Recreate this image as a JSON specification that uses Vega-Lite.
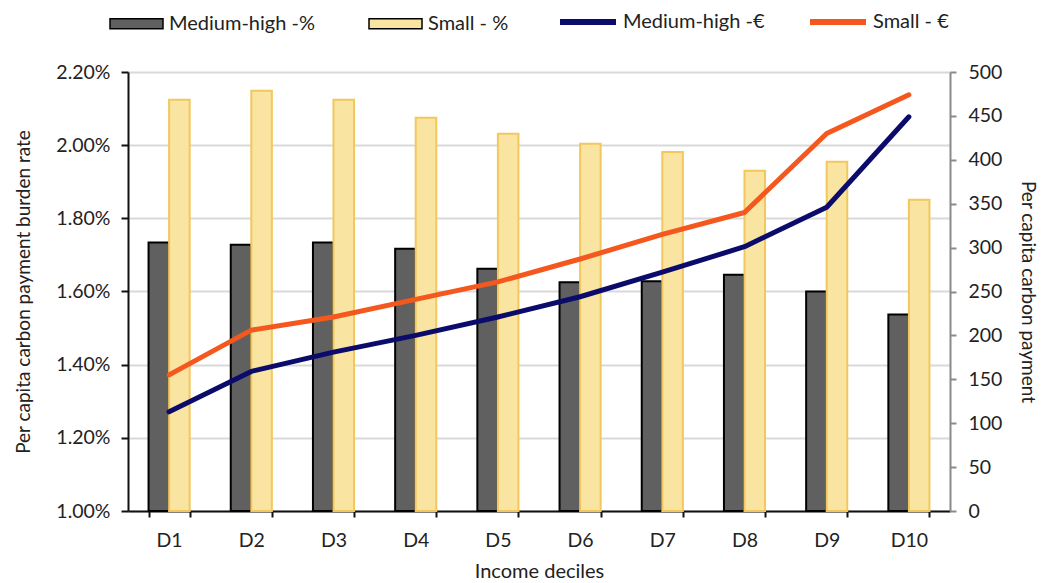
{
  "$schema": "https://vega.github.io/schema/vega-lite/v6.json",
  "autosize": {"type": "none"},
  "padding": {"left": 128, "top": 72, "right": 94, "bottom": 72},
  "width": 822,
  "height": 439,
  "background": "white",
  "config": {
    "font": "Lato",
    "view": {"stroke": null},
    "axis": {"labelFont": "Lato", "titleFont": "Lato", "labelFontSize": 19.5, "titleFontSize": 19, "titleFontWeight": "normal", "labelColor": "#222", "titleColor": "#222"},
    "legend": {"labelFont": "Lato", "labelFontSize": 20, "labelColor": "#222"}
  },
  "datasets": {
    "rates": [
      {"decile": "D1", "series": "Medium-high -%", "value": 0.01734},
      {"decile": "D1", "series": "Small - %", "value": 0.02124},
      {"decile": "D2", "series": "Medium-high -%", "value": 0.01728},
      {"decile": "D2", "series": "Small - %", "value": 0.02149},
      {"decile": "D3", "series": "Medium-high -%", "value": 0.01734},
      {"decile": "D3", "series": "Small - %", "value": 0.02124},
      {"decile": "D4", "series": "Medium-high -%", "value": 0.01717},
      {"decile": "D4", "series": "Small - %", "value": 0.02075},
      {"decile": "D5", "series": "Medium-high -%", "value": 0.01662},
      {"decile": "D5", "series": "Small - %", "value": 0.02031},
      {"decile": "D6", "series": "Medium-high -%", "value": 0.01625},
      {"decile": "D6", "series": "Small - %", "value": 0.02004},
      {"decile": "D7", "series": "Medium-high -%", "value": 0.01628},
      {"decile": "D7", "series": "Small - %", "value": 0.01981},
      {"decile": "D8", "series": "Medium-high -%", "value": 0.01646},
      {"decile": "D8", "series": "Small - %", "value": 0.01930},
      {"decile": "D9", "series": "Medium-high -%", "value": 0.01600},
      {"decile": "D9", "series": "Small - %", "value": 0.01955},
      {"decile": "D10", "series": "Medium-high -%", "value": 0.01537},
      {"decile": "D10", "series": "Small - %", "value": 0.01851}
    ],
    "payments": [
      {"decile": "D1", "series": "Medium-high -€", "value": 113},
      {"decile": "D2", "series": "Medium-high -€", "value": 159},
      {"decile": "D3", "series": "Medium-high -€", "value": 181},
      {"decile": "D4", "series": "Medium-high -€", "value": 200},
      {"decile": "D5", "series": "Medium-high -€", "value": 221},
      {"decile": "D6", "series": "Medium-high -€", "value": 244},
      {"decile": "D7", "series": "Medium-high -€", "value": 272},
      {"decile": "D8", "series": "Medium-high -€", "value": 301},
      {"decile": "D9", "series": "Medium-high -€", "value": 346},
      {"decile": "D10", "series": "Medium-high -€", "value": 449},
      {"decile": "D1", "series": "Small - €", "value": 155},
      {"decile": "D2", "series": "Small - €", "value": 206},
      {"decile": "D3", "series": "Small - €", "value": 221},
      {"decile": "D4", "series": "Small - €", "value": 241},
      {"decile": "D5", "series": "Small - €", "value": 261},
      {"decile": "D6", "series": "Small - €", "value": 287},
      {"decile": "D7", "series": "Small - €", "value": 315},
      {"decile": "D8", "series": "Small - €", "value": 340},
      {"decile": "D9", "series": "Small - €", "value": 430},
      {"decile": "D10", "series": "Small - €", "value": 474}
    ]
  },
  "encoding": {
    "x": {
      "field": "decile",
      "type": "nominal",
      "sort": ["D1", "D2", "D3", "D4", "D5", "D6", "D7", "D8", "D9", "D10"],
      "scale": {"paddingInner": 0.5, "paddingOuter": 0.25},
      "axis": {
        "title": "Income deciles",
        "titleFontSize": 20,
        "labelAngle": 0,
        "labelPadding": 14,
        "titlePadding": 12,
        "tickBand": "extent",
        "domainColor": "#111",
        "domainWidth": 2,
        "tickColor": "#111",
        "tickWidth": 2,
        "tickSize": 6,
        "grid": false
      }
    }
  },
  "layer": [
    {
      "data": {"name": "rates"},
      "mark": {"type": "bar", "strokeWidth": 2},
      "encoding": {
        "xOffset": {"field": "series", "type": "nominal", "sort": ["Medium-high -%", "Small - %"]},
        "y": {
          "field": "value",
          "type": "quantitative",
          "scale": {"domain": [0.01, 0.022], "zero": false, "nice": false},
          "axis": {
            "title": "Per capita carbon payment burden rate",
            "format": ".2%",
            "values": [0.01, 0.012, 0.014, 0.016, 0.018, 0.02, 0.022],
            "grid": true,
            "gridColor": "#d9d9d9",
            "gridWidth": 2,
            "domainColor": "#111",
            "domainWidth": 2,
            "tickColor": "#111",
            "tickWidth": 2,
            "tickSize": 7,
            "labelPadding": 11,
            "titlePadding": 22
          }
        },
        "y2": {"datum": 0.01},
        "fill": {
          "field": "series",
          "type": "nominal",
          "scale": {"domain": ["Medium-high -%", "Small - %"], "range": ["#606060", "#fae4a2"]},
          "legend": {
            "title": null,
            "orient": "none",
            "direction": "horizontal",
            "legendX": -19,
            "legendY": -76,
            "symbolType": "M-1,-0.19H1V0.19H-1Z",
            "symbolSize": 2809,
            "symbolStrokeWidth": 1.5,
            "labelOffset": 5,
            "columnPadding": 51,
            "encode": {
              "symbols": {
                "update": {
                  "stroke": [
                    {"test": "datum.value === 'Small - %'", "value": "#f2c75c"},
                    {"value": "#000000"}
                  ]
                }
              }
            }
          }
        },
        "stroke": {
          "condition": {"test": "datum.series === 'Small - %'", "value": "#f2c75c"},
          "value": "#000000"
        }
      }
    },
    {
      "data": {"name": "payments"},
      "mark": {"type": "line", "strokeWidth": 5, "strokeCap": "round", "strokeJoin": "round"},
      "encoding": {
        "y": {
          "field": "value",
          "type": "quantitative",
          "scale": {"domain": [0, 500], "nice": false},
          "axis": {
            "orient": "right",
            "title": "Per capita carbon payment",
            "values": [0, 50, 100, 150, 200, 250, 300, 350, 400, 450, 500],
            "grid": false,
            "domainColor": "#8a8a8a",
            "domainWidth": 2,
            "tickColor": "#8a8a8a",
            "tickWidth": 2,
            "tickSize": 6,
            "labelPadding": 12,
            "titlePadding": 16
          }
        },
        "stroke": {
          "field": "series",
          "type": "nominal",
          "scale": {"domain": ["Medium-high -€", "Small - €"], "range": ["#0b0b6b", "#f4581e"]},
          "legend": {
            "title": null,
            "orient": "none",
            "direction": "horizontal",
            "legendX": 429,
            "legendY": -81,
            "symbolType": "stroke",
            "symbolSize": 3136,
            "symbolStrokeWidth": 6,
            "labelOffset": 4,
            "columnPadding": 33
          }
        }
      }
    }
  ],
  "resolve": {"scale": {"y": "independent"}}
}
